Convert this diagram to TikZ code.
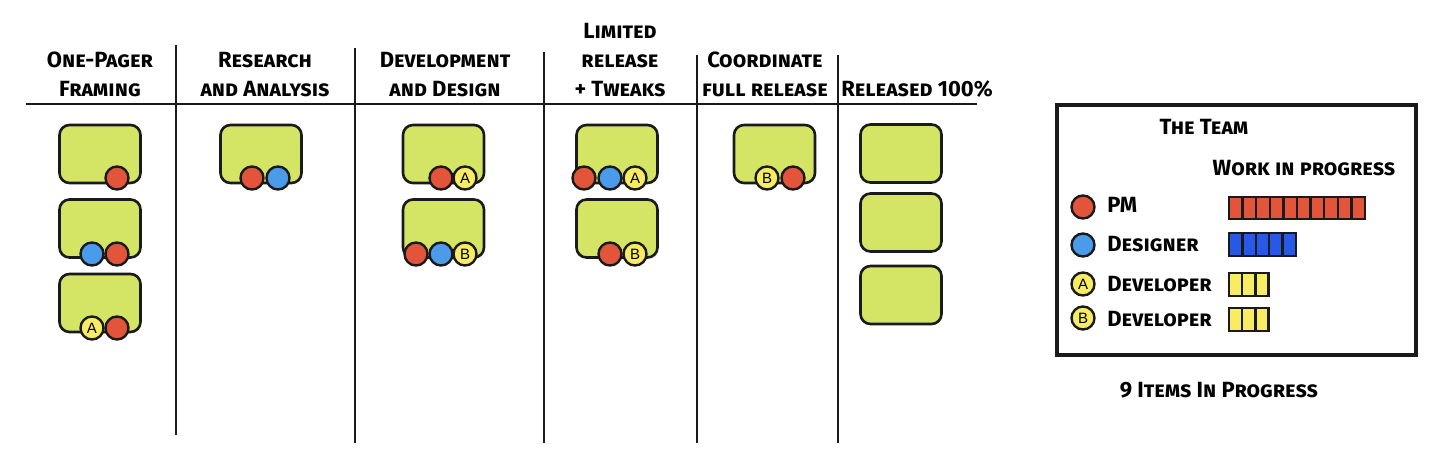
\documentclass[tikz,border=0pt]{standalone}
\usepackage{fontspec}
\setmainfont{Fira Sans}
\newfontfamily\badgefont{Liberation Sans}
\usetikzlibrary{positioning}
\definecolor{cardgreen}{HTML}{D4E465}
\definecolor{pmred}{HTML}{E2553A}
\definecolor{desblue}{HTML}{4A9BEA}
\definecolor{devyellow}{HTML}{F7EC62}
\definecolor{barblue}{HTML}{2659E6}
\definecolor{inkblack}{HTML}{1A1A1A}
\newcommand{\handfont}{\fontsize{11}{14.5}\selectfont\bfseries\scshape}
\tikzset{
  colhead/.style={
    align=center, font=\handfont, inner sep=0pt, anchor=base
  },
  legtext/.style={
    font=\handfont, inner sep=0pt, anchor=base west
  },
  card/.style={
    rectangle, rounded corners=5pt, draw=inkblack, fill=cardgreen,
    line width=1.3pt, minimum width=40.5pt, minimum height=29pt,
    inner sep=0pt
  },
  badge/.style={
    circle, draw=inkblack, fill=#1, line width=1.2pt,
    minimum size=11.5pt, inner sep=0pt,
    font=\badgefont\fontsize{7.5}{8}\selectfont
  },
  pm/.style={badge=pmred},
  des/.style={badge=desblue},
  dev/.style={badge=devyellow},
  wipbar/.style={
    draw=inkblack, fill=#1, line width=1.2pt
  },
  rule/.style={
    draw=inkblack, line width=0.8pt
  },
}

\begin{document}
\begin{tikzpicture}[x=0.5pt, y=-0.5pt]
  \useasboundingbox (0,0) rectangle (1456,465);

  %% Board rules
  \draw[rule] (26,104) -- (977,104);
  \draw[rule] (176,45) -- (176,435);
  \draw[rule] (355,48) -- (355,443);
  \draw[rule] (544,52) -- (544,443);
  \draw[rule] (697,55) -- (697,443);
  \draw[rule] (838,55) -- (838,443);

  %% Column headers
  \node[colhead] (h1) at (100,97) {One-Pager\\Framing};
  \node[colhead] (h2) at (265,97) {Research\\and Analysis};
  \node[colhead] (h3) at (445,97) {Development\\and Design};
  \node[colhead] (h4) at (620,97) {Limited\\release\\+ Tweaks};
  \node[colhead] (h5) at (765,97) {Coordinate\\full release};
  \node[colhead] (h6) at (917,97) {Released 100\%};

  %% Cards: One-Pager Framing
  \node[card] (c11) at (100,154) {};
  \node[card] (c12) at (100,228.5) {};
  \node[card] (c13) at (100,303) {};
  \node[pm]  (c11pm) at (117,178) {};
  \node[des] (c12ds) at (92,254) {};
  \node[pm]  (c12pm) at (117,254) {};
  \node[dev] (c13a)  at (92,328) {A};
  \node[pm]  (c13pm) at (117,328) {};

  %% Cards: Research and Analysis
  \node[card] (c21) at (261,154) {};
  \node[pm]  (c21pm) at (252,178) {};
  \node[des] (c21ds) at (278,178) {};

  %% Cards: Development and Design
  \node[card] (c31) at (443.5,154) {};
  \node[card] (c32) at (443.5,228.5) {};
  \node[pm]  (c31pm) at (441,178) {};
  \node[dev] (c31a)  at (465,178) {A};
  \node[pm]  (c32pm) at (416,254) {};
  \node[des] (c32ds) at (441,254) {};
  \node[dev] (c32b)  at (465,254) {B};

  %% Cards: Limited release + Tweaks
  \node[card] (c41) at (617,154) {};
  \node[card] (c42) at (617,228.5) {};
  \node[pm]  (c41pm) at (584,178) {};
  \node[des] (c41ds) at (610,178) {};
  \node[dev] (c41a)  at (635,178) {A};
  \node[pm]  (c42pm) at (610,254) {};
  \node[dev] (c42b)  at (635,254) {B};

  %% Cards: Coordinate full release
  \node[card] (c51) at (774.5,154) {};
  \node[dev] (c51b)  at (767,178) {B};
  \node[pm]  (c51pm) at (793,178) {};

  %% Cards: Released 100%
  \node[card] (c61) at (901,153.5) {};
  \node[card] (c62) at (901,222.5) {};
  \node[card] (c63) at (901,295) {};

  %% The team legend
  \draw[draw=inkblack, line width=1.6pt] (1057,105) rectangle (1416,355);
  \node[legtext, anchor=base] (team) at (1204,134) {The Team};
  \node[legtext, anchor=base] (wip) at (1304,176) {Work in progress};

  \node[pm]  (lpm) at (1083,207) {};
  \node[des] (lds) at (1083,245) {};
  \node[dev] (lda) at (1083,284) {A};
  \node[dev] (ldb) at (1083,318) {B};
  \node[legtext] (tpm) at (1107,213) {PM};
  \node[legtext] (tds) at (1107,251) {Designer};
  \node[legtext] (tda) at (1107,291) {Developer};
  \node[legtext] (tdb) at (1107,326) {Developer};

  \foreach \i in {0,...,9}
    \draw[wipbar=pmred] ({1229+\i*13.6},197) rectangle ++(13.6,22);
  \foreach \i in {0,...,4}
    \draw[wipbar=barblue] ({1229+\i*13.4},233) rectangle ++(13.4,23);
  \foreach \i in {0,...,2}
    \draw[wipbar=devyellow] ({1229+\i*13.2},273) rectangle ++(13.2,23);
  \foreach \i in {0,...,2}
    \draw[wipbar=devyellow] ({1229+\i*13.2},308) rectangle ++(13.2,23);

  \node[legtext, anchor=base] (total) at (1219,397) {9 Items In Progress};

\end{tikzpicture}
\end{document}
